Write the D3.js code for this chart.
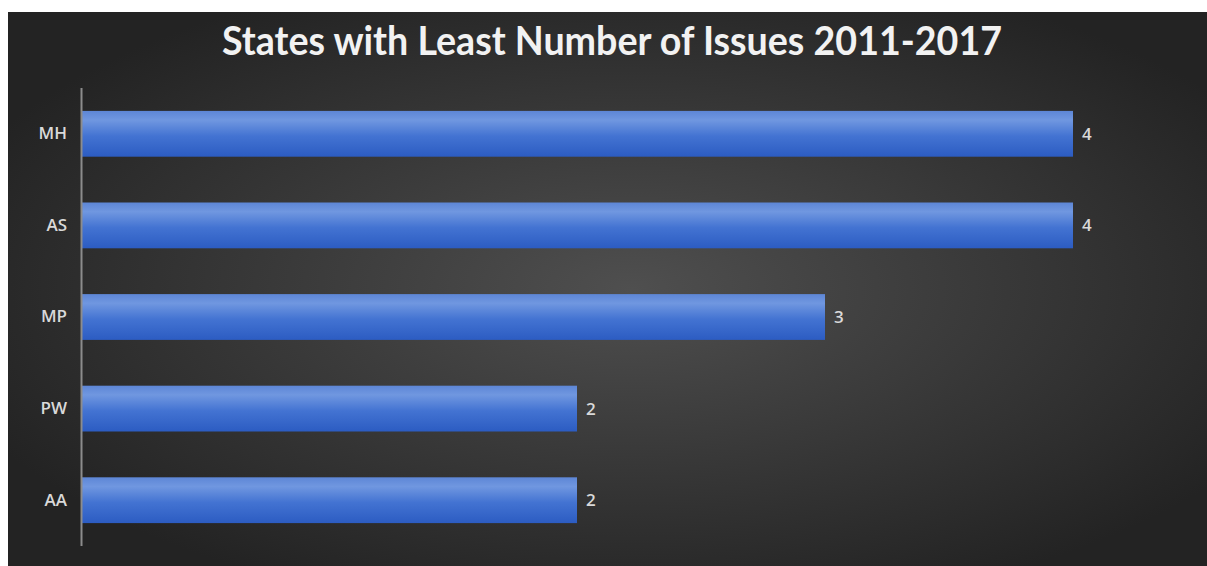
<!DOCTYPE html>
<html>
<head>
<meta charset="utf-8">
<script src="https://cdn.jsdelivr.net/npm/d3@7"></script>
<style>
  body { margin: 0; background: #fff; }
  svg { display: block; }
</style>
</head>
<body>
<script>
var width = 1207,
    height = 566;

// data
var states = ["MH", "AS", "MP", "PW", "AA"];
var issues = [4, 4, 3, 2, 2];
var title = "States with Least Number of Issues 2011-2017";

var data = states.map(function (s, i) { return { state: s, value: issues[i] }; });

var svg = d3.select("body").append("svg")
    .attr("width", width)
    .attr("height", height);

var defs = svg.append("defs");

var bg = defs.append("radialGradient")
    .attr("id", "bg")
    .attr("cx", "52%").attr("cy", "50%").attr("r", "60%");
bg.append("stop").attr("offset", "0%").attr("stop-color", "#4f4f4f");
bg.append("stop").attr("offset", "100%").attr("stop-color", "#232323");

var barGrad = defs.append("linearGradient")
    .attr("id", "bar")
    .attr("x1", 0).attr("y1", 0).attr("x2", 0).attr("y2", 1);
barGrad.append("stop").attr("offset", "0%").attr("stop-color", "#5d86d6");
barGrad.append("stop").attr("offset", "20%").attr("stop-color", "#7097e0");
barGrad.append("stop").attr("offset", "55%").attr("stop-color", "#4373d2");
barGrad.append("stop").attr("offset", "100%").attr("stop-color", "#2c5cc2");

// chart area background (white margin top/left like the screenshot)
svg.append("rect")
    .attr("x", 8).attr("y", 12)
    .attr("width", width - 8).attr("height", height - 12)
    .style("fill", "url(#bg)");

svg.append("text")
    .attr("x", 222)
    .attr("y", 55)
    .attr("textLength", 780)
    .attr("lengthAdjust", "spacingAndGlyphs")
    .style("font-family", "Lato, 'Open Sans', sans-serif")
    .style("font-weight", "bold")
    .style("font-size", "41px")
    .style("fill", "#f2f2f2")
    .text(title);

var x = d3.scaleLinear()
    .domain([0, 4])
    .range([81, 1073]);

var y = d3.scaleBand()
    .domain(states)
    .range([88, 546])
    .paddingInner(0.5)
    .paddingOuter(0.25);

svg.append("g")
    .selectAll("rect")
    .data(data)
    .enter().append("rect")
    .attr("x", x(0))
    .attr("y", function (d) { return y(d.state); })
    .attr("width", function (d) { return x(d.value) - x(0); })
    .attr("height", y.bandwidth())
    .style("fill", "url(#bar)");

// category axis
var yAxis = d3.axisLeft(y).tickSize(0).tickPadding(14);
var gy = svg.append("g")
    .attr("transform", "translate(" + x(0) + ",0)")
    .call(yAxis);
gy.select(".domain")
    .attr("d", "M0.5,88V546")
    .style("stroke", "#8c8c8c")
    .style("stroke-width", 2);
gy.selectAll("text")
    .style("font-family", "'Open Sans', sans-serif")
    .style("font-weight", "600")
    .style("font-size", "17px")
    .style("fill", "#d9d9d9");

// value labels
svg.append("g")
    .selectAll("text")
    .data(data)
    .enter().append("text")
    .attr("x", function (d) { return x(d.value) + 9; })
    .attr("y", function (d) { return y(d.state) + y.bandwidth() / 2; })
    .attr("dy", "0.35em")
    .style("font-family", "'Open Sans', sans-serif")
    .style("font-weight", "600")
    .style("font-size", "17px")
    .style("fill", "#d9d9d9")
    .text(function (d) { return d.value; });
</script>
</body>
</html>
